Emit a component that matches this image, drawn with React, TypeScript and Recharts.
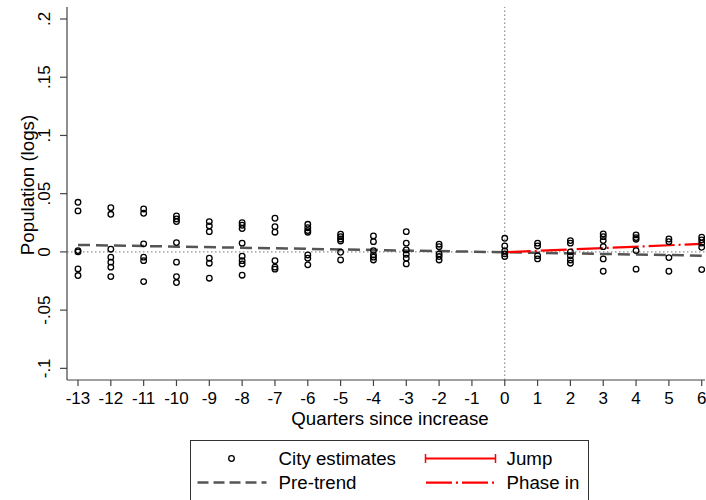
import React from "react";
import {
  ComposedChart,
  Scatter,
  Line,
  XAxis,
  YAxis,
  ReferenceLine,
  Legend,
} from "recharts";

// quarters relative to the increase
const quarters = [-13, -12, -11, -10, -9, -8, -7, -6, -5, -4, -3, -2, -1, 0, 1, 2, 3, 4, 5, 6];

// city-level estimates, one list per quarter
const cityEstimates: number[][] = [
  [0.0426, 0.0352, 0.0011, 0.0, -0.0146, -0.0203],
  [0.038, 0.0323, 0.0023, -0.0045, -0.0088, -0.0131, -0.0212],
  [0.0369, 0.0332, 0.0069, -0.0045, -0.0075, -0.0255],
  [0.0309, 0.0283, 0.026, 0.008, -0.0088, -0.0212, -0.0263],
  [0.026, 0.0223, 0.0174, -0.0054, -0.0097, -0.0226],
  [0.0251, 0.0229, 0.02, 0.0075, -0.0037, -0.0075, -0.0103, -0.02],
  [0.0289, 0.0217, 0.0169, -0.0075, -0.0131, -0.0148],
  [0.0237, 0.0208, 0.0183, 0.0169, -0.0026, -0.0054, -0.0111],
  [0.0152, 0.0131, 0.0111, 0.0094, -0.0003, -0.0069],
  [0.0137, 0.0088, 0.0011, -0.0026, -0.0045, -0.0069],
  [0.0174, 0.0075, 0.0017, -0.002, -0.0054, -0.0103],
  [0.0066, 0.0045, -0.0017, -0.004, -0.0069],
  [],
  [0.0117, 0.0051, 0.0009, -0.0017, -0.004],
  [0.0075, 0.0051, -0.0032, -0.006],
  [0.0097, 0.0075, 0.0, -0.0034, -0.0069, -0.0097],
  [0.0154, 0.0131, 0.0097, 0.0045, -0.006, -0.0166],
  [0.0146, 0.0123, 0.0109, 0.0011, -0.0148],
  [0.0111, 0.0088, -0.0049, -0.0166],
  [0.0126, 0.0103, 0.0075, 0.004, -0.0152],
];

// fitted lines (endpoints)
const preTrendQ = [-13, 6];
const preTrendV = [0.006, -0.0032];
const jumpQ = [0, 0];
const jumpV = [-0.0003, -0.0003];
const phaseInQ = [0, 6];
const phaseInV = [-0.0003, 0.0069];

const yTicks = [-0.1, -0.05, 0, 0.05, 0.1, 0.15, 0.2];

const scatterData = quarters.flatMap((q, i) => cityEstimates[i].map((v) => ({ q, v })));
const toPoints = (qs: number[], vs: number[]) => qs.map((q, i) => ({ q, v: vs[i] }));

const FONT = "'Liberation Sans', Arial, Helvetica, sans-serif";
const AXIS = "#444";
const TICK_FS = 17;
const TITLE_FS = 18.7;

const fmtY = (v: number) => (v === 0 ? "0" : String(v).replace("0.", "."));

const YTick = ({ y, payload }: any) => (
  <text
    transform={`translate(50, ${y}) rotate(-90)`}
    textAnchor="middle"
    fontSize={TICK_FS}
    fontFamily={FONT}
    fill="#000"
  >
    {fmtY(payload.value)}
  </text>
);

const XTick = ({ x, payload }: any) => (
  <text x={x} y={404} textAnchor="middle" fontSize={TICK_FS} fontFamily={FONT} fill="#000">
    {payload.value}
  </text>
);

const Circle = (props: any) => (
  <circle cx={props.cx} cy={props.cy} r={2.8} fill="none" stroke="#000" strokeWidth={1.3} />
);

const LegendBox = () => (
  <div
    style={{
      width: 399,
      height: 60,
      border: "1px solid #333",
      borderBottom: "none",
      boxSizing: "border-box",
      background: "#fff",
    }}
  >
    <svg width={399} height={60} style={{ display: "block", marginTop: -1, marginLeft: -1 }}>
      <g fontFamily={FONT} fontSize={TITLE_FS} fill="#000">
        <circle cx={41.5} cy={18.5} r={2.8} fill="none" stroke="#000" strokeWidth={1.3} />
        <text x={88.6} y={25}>City estimates</text>
        <line x1={7.5} x2={76.5} y1={42.6} y2={42.6} stroke="#555" strokeWidth={2.5} strokeDasharray="11 5" />
        <text x={88.6} y={49.3}>Pre-trend</text>
        <line x1={235} x2={306} y1={18.5} y2={18.5} stroke="#ff0000" strokeWidth={2.2} />
        <line x1={235.5} x2={235.5} y1={14} y2={23} stroke="#ff0000" strokeWidth={1.5} />
        <line x1={305.5} x2={305.5} y1={14} y2={23} stroke="#ff0000" strokeWidth={1.5} />
        <text x={316.6} y={25}>Jump</text>
        <line x1={236} x2={306} y1={42.6} y2={42.6} stroke="#ff0000" strokeWidth={2.2} strokeDasharray="26 4 2 4" />
        <text x={316.6} y={49.3}>Phase in</text>
      </g>
    </svg>
  </div>
);

export default function App() {
  return (
    <div style={{ position: "absolute", left: 0, top: 0, background: "#fff" }}>
      <ComposedChart width={706} height={500} margin={{ top: 7, right: 1, left: 0, bottom: 70 }}>
        <XAxis
          type="number"
          dataKey="q"
          domain={[-13.335, 6.1]}
          ticks={quarters}
          allowDataOverflow
          interval={0}
          height={50}
          tickSize={6}
          stroke={AXIS}
          strokeWidth={1.2}
          tick={<XTick />}
          label={{
            content: () => (
              <text x={390} y={425} textAnchor="middle" fontSize={TITLE_FS} fontFamily={FONT} fill="#000">
                Quarters since increase
              </text>
            ),
          }}
        />
        <YAxis
          type="number"
          dataKey="v"
          domain={[-0.11, 0.2103]}
          ticks={yTicks}
          allowDataOverflow
          width={67}
          tickSize={7}
          stroke={AXIS}
          strokeWidth={1.2}
          tick={<YTick />}
          label={{
            content: () => (
              <text
                transform="translate(34, 185) rotate(-90)"
                textAnchor="middle"
                fontSize={TITLE_FS}
                fontFamily={FONT}
                fill="#000"
              >
                Population (logs)
              </text>
            ),
          }}
        />
        <ReferenceLine y={0} stroke="#777" strokeWidth={1} strokeDasharray="1.5 2.5" />
        <ReferenceLine x={0} stroke="#777" strokeWidth={1} strokeDasharray="1.5 2.5" />
        <Scatter data={scatterData} dataKey="v" shape={<Circle />} isAnimationActive={false} />
        <Line
          data={toPoints(preTrendQ, preTrendV)}
          dataKey="v"
          stroke="#555"
          strokeWidth={2.5}
          strokeDasharray="12 6"
          dot={false}
          activeDot={false}
          isAnimationActive={false}
        />
        <Line
          data={toPoints(jumpQ, jumpV)}
          dataKey="v"
          stroke="#ff0000"
          strokeWidth={2.2}
          dot={false}
          activeDot={false}
          isAnimationActive={false}
        />
        <Line
          data={toPoints(phaseInQ, phaseInV)}
          dataKey="v"
          stroke="#ff0000"
          strokeWidth={2.2}
          strokeDasharray="26 4 2 4"
          dot={false}
          activeDot={false}
          isAnimationActive={false}
        />
        <Legend
          layout="horizontal"
          verticalAlign="middle"
          align="center"
          content={<LegendBox />}
          wrapperStyle={{ left: 190, top: 440, width: 400, height: 60 }}
        />
      </ComposedChart>
    </div>
  );
}
